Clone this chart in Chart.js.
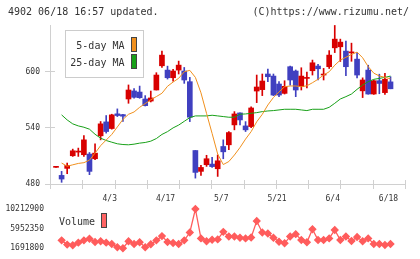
<!DOCTYPE html>
<html>
<head>
<meta charset="utf-8">
<script src="https://cdn.jsdelivr.net/npm/chart.js@4.4.0/dist/chart.umd.min.js"></script>
<style>
  body { margin: 0; background: #fff; }
  #wrap { position: relative; width: 420px; height: 259px; overflow: hidden;
          font-family: "DejaVu Sans Mono", monospace; font-size: 10px; color: #333; }
  canvas { position: absolute; left: 0; top: 0; }
  .t { position: absolute; white-space: pre; line-height: 12px; }
  .sw { position: absolute; width: 6px; height: 15px; box-sizing: border-box; border: 1px solid #444; }
  #legend { position: absolute; left: 65px; top: 30px; width: 79px; height: 48px;
            box-sizing: border-box; border: 1px solid #ccc; background: #fff; }
</style>
</head>
<body>
<div id="wrap">
  <canvas id="main" width="420" height="259"></canvas>
  <canvas id="vol" width="420" height="259"></canvas>
  <div class="t" style="left:8px;top:6px">4902 06/18 16:57 updated.</div>
  <div class="t" style="right:11px;top:6px">(C)https://www.rizumu.net/</div>
  <div id="legend"></div>
  <div class="t" style="left:60px;width:64.5px;text-align:right;top:40px">5-day MA</div>
  <div class="t" style="left:60px;width:64.5px;text-align:right;top:57px">25-day MA</div>
  <div class="sw" style="left:131px;top:37px;background:#f0901e"></div>
  <div class="sw" style="left:131px;top:54px;background:#18a018"></div>
  <div class="t" style="left:59px;top:216px">Volume</div>
  <div class="sw" style="left:101px;top:213px;background:#ff6464"></div>
</div>
<script>
// ローソク足（始値・高値・安値・終値）
const open = [497.8, 489.2, 496.7, 510.2, 514.1, 511.3, 512, 507, 531.5, 546.4,
              539.3, 555, 554.2, 570.9, 579.5, 578.3, 570.9, 568.7, 580.5, 606.4,
              601.8, 593.6, 601.8, 600.8, 589.4, 515.8, 493.5, 500.6, 501.3, 496.3,
              520.1, 521.9, 543.2, 556, 542.1, 541.4, 579.4, 580.9, 597.6, 595.4,
              586.9, 576.9, 605.4, 600.8, 584.1, 592.9, 601.1, 606.1, 596.5, 605.4,
              625.6, 626.7, 622.1, 620.2, 613.5, 579.6, 601.8, 576.2, 590.4, 577.7,
              589.2];
const high = [497.8, 493.5, 502.4, 517.3, 518.4, 531.9, 513.7, 523, 546.8, 553.2,
              554.6, 560.3, 554.6, 585.9, 581.9, 584.7, 574.5, 579.4, 599, 622.1,
              606, 602.5, 611.4, 604.6, 594, 515.8, 499.9, 510.7, 508.6, 511,
              527.2, 536.1, 557.4, 556, 546.7, 562.4, 596.5, 597.6, 602.9, 597.6,
              589.4, 590.4, 606.1, 601.9, 604.3, 599.7, 612.5, 607.9, 603.6, 622.6,
              649.5, 634.9, 632.8, 630.6, 620.5, 593.5, 607, 591, 597.4, 598.3,
              594.7];
const low = [497.8, 481.8, 491, 509.5, 509.5, 509.5, 490, 506, 527.2, 534.4,
             538.6, 552.1, 546.8, 566.3, 571.7, 571.6, 563.4, 567.7, 580.5, 604.7,
             592.2, 590, 597.6, 587.6, 546.7, 486.3, 489.2, 498.8, 497.7, 488.1,
             507, 516.6, 537.9, 543.2, 536.1, 540.3, 567, 574.5, 589.4, 574.5,
             573.4, 576.2, 585.8, 573.4, 580.5, 582.6, 596.5, 591.2, 591.2, 603.5,
             620.5, 611, 595.8, 611.2, 593.5, 572.4, 576, 575.8, 576.5, 575.8,
             581.8];
const close = [497.8, 485.3, 499.9, 515.5, 515.2, 527.2, 493.5, 513, 544.3, 536.1,
               553.9, 553.2, 552.5, 580.5, 572.7, 572.3, 563.8, 572, 596.5, 617.8,
               593.6, 600.8, 607.1, 591.2, 551.4, 492.4, 497.7, 507, 498.6, 504.8,
               514.4, 535, 554.9, 548.5, 537.9, 561.3, 583.7, 590.1, 594.7, 575.1,
               575.1, 584.4, 591.2, 580.5, 595.4, 593.6, 609.6, 603.2, 597.2, 617.8,
               634.9, 631.7, 605.4, 620.9, 596.5, 591.2, 576.2, 590.4, 587.5, 591.9,
               581.8];

// 移動平均線
const ma5 = [null, 502.4, 499, 500.5, 502, 502.8, 505.5, 513, 521, 527,
             533, 541, 549, 554.5, 557, 562, 566, 570, 573.5, 577,
             584.5, 589, 593, 600, 601.5, 594, 577.5, 555.5, 534, 512,
             500.8, 504, 511, 519, 528, 536, 546.5, 554.5, 564.5, 572.5,
             578.5, 584, 584.8, 584.8, 584, 585, 588.3, 592, 596.5, 600,
             607, 612.5, 615.5, 618.5, 621, 615, 605.5, 598.5, 595.5, 594,
             592.5];
const ma25 = [null, 553.9, 548.5, 544.3, 542.1, 540.7, 538.6, 533.2, 529, 526.5,
              524.7, 523, 522.2, 521.9, 522.6, 523.7, 524.4, 525.8, 528.6, 533,
              536, 540, 543, 547, 551, 552.8, 552.8, 552.8, 553.5, 552.8,
              552.1, 551.4, 551.4, 554.6, 554.9, 555.6, 556.3, 557.4, 558.1, 558.5,
              559.2, 559.9, 559.9, 559.9, 559.2, 558.5, 559.9, 559.9, 559.9, 562,
              566.3, 570.9, 573.4, 576.2, 581.2, 585.8, 589.4, 591.9, 592.9, 594,
              595.4];

// 出来高
const volume = [null, 3396000, 2473000, 2331000, 2899000, 3396000, 3751000, 3041000, 3183000, 2899000,
                2615000, 1905000, 1691800, 3183000, 2615000, 2970000, 1905000, 2544000, 3396000, 4319000,
                3041000, 2828000, 2615000, 3396000, 5100000, 10212900, 3822000, 3183000, 3538000, 3609000,
                5242000, 4248000, 4248000, 3964000, 3822000, 4035000, 7586000, 5100000, 4887000, 3964000,
                3112000, 2757000, 4248000, 4745000, 3467000, 2970000, 5810000, 3467000, 3467000, 3822000,
                5668000, 3467000, 4248000, 3254000, 4106000, 3183000, 3822000, 2615000, 2615000, 2402000,
                2615000];

// 軸ラベル
const dates = ['4/3', '4/17', '5/7', '5/21', '6/4', '6/18'];
const dateIdx = [10, 20, 30, 40, 50, 60];
const priceTicks = [480, 540, 600];
const volTicks = [1691800, 5952350, 10212900];

const UP = '#d80000', DOWN = '#4040c0';
const GRID = '#d0d0d0';
const font = { family: 'DejaVu Sans Mono', size: 8 };
const xMin = -1.08, xMax = 62.6;

const candleColors = open.map((o, i) => close[i] >= o ? UP : DOWN);

// 軸をまたぐ短い目盛り線
const crossTicks = {
    id: 'crossTicks',
    beforeDatasetsDraw(chart) {
        const { ctx, chartArea: a, scales } = chart;
        ctx.save();
        ctx.strokeStyle = GRID;
        ctx.lineWidth = 1;
        ctx.beginPath();
        scales.y.ticks.forEach(t => {
            const y = Math.round(scales.y.getPixelForValue(t.value) - 0.5) + 0.5;
            ctx.moveTo(a.left - 5, y);
            ctx.lineTo(a.left + 5, y);
        });
        for (let k = 0; k <= 11; k++) {
            const x = Math.round(a.left + k * (a.right - a.left) / 11) + 0.5;
            ctx.moveTo(x, a.bottom - 4);
            ctx.lineTo(x, a.bottom + 5);
        }
        ctx.stroke();
        ctx.restore();
    }
};

new Chart(document.getElementById('main'), {
    type: 'bar',
    data: {
        datasets: [
            {
                type: 'line', label: '5-day MA',
                data: ma5.map((v, i) => ({ x: i, y: v })),
                borderColor: '#f0901e', borderWidth: 1, pointRadius: 0, order: 0
            },
            {
                type: 'line', label: '25-day MA',
                data: ma25.map((v, i) => ({ x: i, y: v })),
                borderColor: '#18a018', borderWidth: 1, pointRadius: 0, order: 0
            },
            {
                label: 'wick',
                data: low.map((l, i) => ({ x: i, y: [l, high[i]] })),
                backgroundColor: candleColors, barThickness: 1, grouped: false, order: 2
            },
            {
                label: 'body',
                data: open.map((o, i) => ({ x: i, y: [o, close[i]] })),
                backgroundColor: candleColors, barThickness: 5, minBarLength: 1,
                grouped: false, order: 1
            }
        ]
    },
    options: {
        responsive: false,
        animation: false,
        layout: { padding: { top: 25, right: 15, bottom: 50, left: 0 } },
        plugins: { legend: { display: false }, tooltip: { enabled: false } },
        scales: {
            x: {
                type: 'linear', min: xMin, max: xMax, offset: false,
                grid: { display: false, drawTicks: false },
                border: { display: true, color: GRID },
                afterFit(s) { s.height = 25; },
                afterBuildTicks(s) { s.ticks = dateIdx.map(v => ({ value: v })); },
                ticks: {
                    callback: v => dates[dateIdx.indexOf(v)],
                    autoSkip: false, maxRotation: 0, padding: 10, labelOffset: -2,
                    font: font, color: '#333'
                }
            },
            y: {
                min: 480, max: 650,
                grid: { display: false, drawTicks: false },
                border: { display: true, color: GRID },
                afterFit(s) { s.width = 50; },
                afterBuildTicks(s) { s.ticks = priceTicks.map(v => ({ value: v })); },
                ticks: { padding: 10, font: font, color: '#333' }
            }
        }
    },
    plugins: [crossTicks]
});

new Chart(document.getElementById('vol'), {
    type: 'line',
    data: {
        datasets: [{
            label: 'Volume',
            data: volume.map((v, i) => ({ x: i, y: v })).filter(p => p.y !== null),
            borderColor: '#ff5c5c', backgroundColor: '#ff5c5c', borderWidth: 1.3,
            pointStyle: 'rectRot', pointRadius: 3.3, clip: false
        }]
    },
    options: {
        responsive: false,
        animation: false,
        layout: { padding: { top: 209, right: 15, bottom: 10, left: 0 } },
        plugins: { legend: { display: false }, tooltip: { enabled: false } },
        scales: {
            x: { type: 'linear', min: xMin, max: xMax, display: false },
            y: {
                min: volTicks[0], max: volTicks[2],
                grid: { display: false, drawTicks: false },
                border: { display: false },
                afterFit(s) { s.width = 50; },
                afterBuildTicks(s) { s.ticks = volTicks.map(v => ({ value: v })); },
                ticks: { padding: 6, font: font, color: '#333', callback: v => String(v) }
            }
        }
    }
});
</script>
</body>
</html>
